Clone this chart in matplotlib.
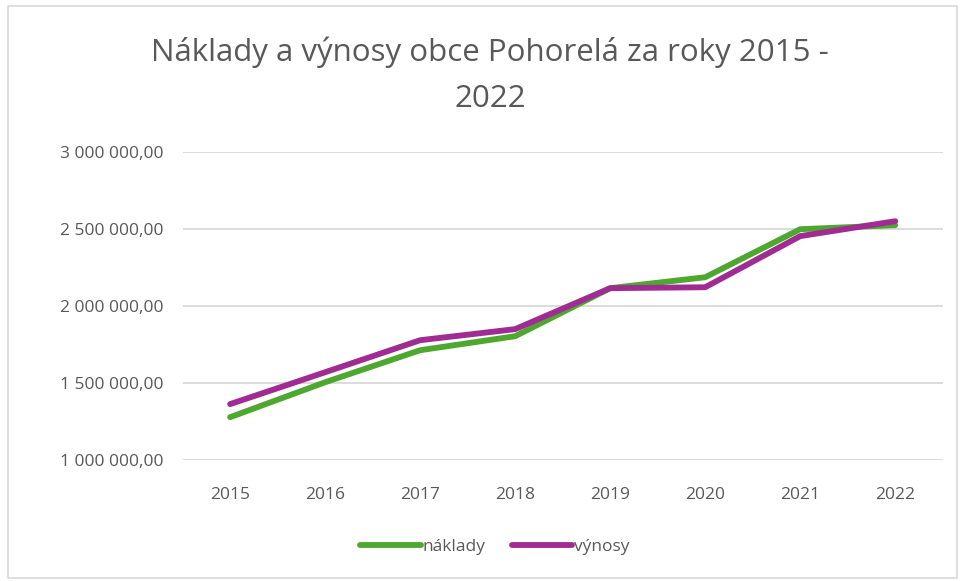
import matplotlib.pyplot as plt
from matplotlib.patches import Rectangle

# Data
years = ['2015', '2016', '2017', '2018', '2019', '2020', '2021', '2022']
naklady = [1279000, 1506000, 1714000, 1805000, 2117000, 2188000, 2500000, 2526000]
vynosy = [1364000, 1571000, 1779000, 1851000, 2117000, 2123000, 2455000, 2552000]
y_ticks = [1000000, 1500000, 2000000, 2500000, 3000000]

plt.rcParams['font.family'] = ['Open Sans', 'DejaVu Sans']
text_color = '#595959'

fig = plt.figure(figsize=(9.61, 5.81), dpi=100)
ax = fig.add_axes([0.19, 0.208, 0.791, 0.53])

x = range(len(years))
ax.plot(x, naklady, color='#4EA72E', lw=4.2, solid_capstyle='round', label='náklady')
ax.plot(x, vynosy, color='#A02B93', lw=4.2, solid_capstyle='round', label='výnosy')

ax.set_xlim(-0.5, len(years) - 0.5)
ax.set_ylim(1000000, 3000000)
ax.set_xticks(list(x))
ax.set_xticklabels(years)
ax.set_yticks(y_ticks)
ax.set_yticklabels([f'{v:,.2f}'.replace(',', ' ').replace('.', ',') for v in y_ticks])
ax.grid(axis='y', color='#D9D9D9', lw=1.3)
ax.set_axisbelow(True)
for s in ax.spines.values():
    s.set_visible(False)
ax.tick_params(length=0, labelsize=12.5, colors=text_color)
ax.tick_params(axis='y', pad=14)
ax.tick_params(axis='x', pad=19)

fig.text(0.51, 0.87, 'Náklady a výnosy obce Pohorelá za roky 2015 -\n2022',
         ha='center', va='center', fontsize=22.5, color=text_color, linespacing=1.7)

fig.legend(loc='center', bbox_to_anchor=(0.515, 0.058), ncol=2, frameon=False,
           fontsize=12.5, handlelength=3.5, handletextpad=0.1, columnspacing=1.5,
           labelcolor=text_color)

# light chart border
fig.patches.append(Rectangle((0.008, 0.005), 0.988, 0.985, transform=fig.transFigure,
                             fill=False, edgecolor='#D9D9D9', lw=1.2))

fig.savefig('out.png', dpi=100)
plt.close(fig)
